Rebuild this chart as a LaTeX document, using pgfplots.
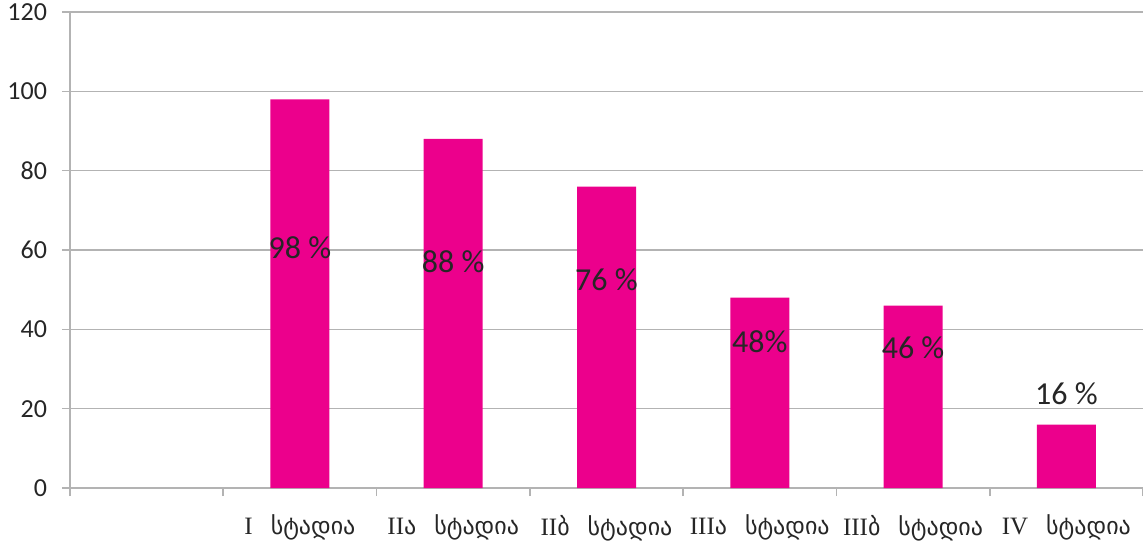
\documentclass[border=0pt]{standalone}
\usepackage{fontspec}
\setmainfont{Carlito}
\newfontfamily\geo{DejaVu Sans}
\newfontfamily\rom{Liberation Serif}
\usepackage{pgfplots}
\pgfplotsset{compat=1.18}
\definecolor{barpink}{HTML}{EC008C}
\definecolor{gridgray}{HTML}{B3B3B3}
\definecolor{txt}{HTML}{262626}
\newcommand{\stg}[2]{{\rom\fontsize{12.5}{14}\selectfont #1}{\geo\fontsize{12}{14}\selectfont #2\hspace{0.75em}სტადია}}
\begin{document}
\begin{tikzpicture}
\begin{axis}[
  name=a,
  scale only axis,
  width=536.5pt, height=238pt,
  xmin=-0.5, xmax=6.5,
  ymin=0, ymax=120,
  ytick={0,20,...,120},
  xtick={0,1,2,3,4,5,6},
  xticklabels={{},{\stg{I}{}},{\stg{II}{ა}},{\stg{II}{ბ}},{\stg{III}{ა}},{\stg{III}{ბ}},{\stg{IV}{}}},
  minor xtick={-0.5,0.5,...,6.5},
  axis x line=bottom, axis y line=left,
  axis line style={draw=gridgray, line width=0.8pt, -},
  tick align=outside,
  major tick length=4pt, minor tick length=4pt,
  major x tick style={draw=none},
  minor x tick style={draw=gridgray, line width=0.8pt},
  major y tick style={draw=gridgray, line width=0.8pt},
  ymajorgrids,
  grid style={draw=gridgray, line width=0.8pt},
  tick label style={text=txt},
  /pgf/number format/assume math mode=true,
  yticklabel style={font=\fontsize{13}{15}\selectfont, xshift=-4pt},
  xticklabel style={yshift=-6pt, text=txt},
  ybar, bar width=29.5pt,
  clip=false,
]
\addplot[fill=barpink, draw=none] coordinates {(1,98) (2,88) (3,76) (4,48) (5,46) (6,16)};
\node[text=txt, font=\fontsize{16}{18}\selectfont] at (axis cs:1,60.5) {98 \%};
\node[text=txt, font=\fontsize{16}{18}\selectfont] at (axis cs:2,57) {88 \%};
\node[text=txt, font=\fontsize{16}{18}\selectfont] at (axis cs:3,52.4) {76 \%};
\node[text=txt, font=\fontsize{16}{18}\selectfont] at (axis cs:4,37) {48\%};
\node[text=txt, font=\fontsize{16}{18}\selectfont] at (axis cs:5,35.3) {46 \%};
\node[text=txt, font=\fontsize{16}{18}\selectfont] at (axis cs:6,23.7) {16 \%};
\end{axis}
\pgfresetboundingbox
\path ([shift={(-35pt,-29pt)}]a.south west) rectangle ([shift={(0pt,6pt)}]a.north east);
\end{tikzpicture}
\end{document}
